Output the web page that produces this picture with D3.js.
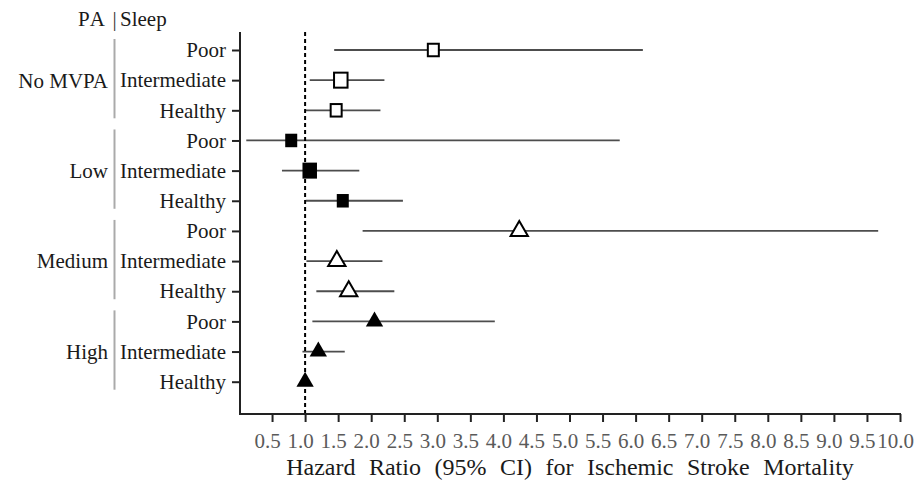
<!DOCTYPE html>
<html>
<head>
<meta charset="utf-8">
<script src="https://cdn.jsdelivr.net/npm/d3@7"></script>
<style>
  html, body { margin: 0; padding: 0; background: #fff; }
  svg { display: block; font-family: "Liberation Serif", "Times New Roman", serif; }
</style>
</head>
<body>
<svg id="chart" width="918" height="489"></svg>
<script>
// Physical activity groups and sleep-pattern categories
const groups = ["No MVPA", "Low", "Medium", "High"];
const sleepLevels = ["Poor", "Intermediate", "Healthy"];

// Hazard ratios with 95% CI, one per group × sleep row (top to bottom)
const hr    = [2.94, 1.54, 1.47, 0.79, 1.07, 1.57, 4.24, 1.48, 1.66, 2.05, 1.20, 1.00];
const lower = [1.44, 1.07, 1.01, 0.11, 0.65, 1.01, 1.87, 1.02, 1.17, 1.11, 0.96, 1.00];
const upper = [6.11, 2.20, 2.14, 5.76, 1.82, 2.48, 9.67, 2.17, 2.35, 3.87, 1.60, 1.00];

// X-axis tick values
const xTicks = [0.5, 1.0, 1.5, 2.0, 2.5, 3.0, 3.5, 4.0, 4.5, 5.0,
                5.5, 6.0, 6.5, 7.0, 7.5, 8.0, 8.5, 9.0, 9.5, 10.0];
const refValue = 1.0;
const xTitle = "Hazard Ratio (95%  CI) for Ischemic Stroke Mortality";

// Marker style per PA group
const markerStyle = {
  "No MVPA": { shape: "square",   filled: false },
  "Low":     { shape: "square",   filled: true  },
  "Medium":  { shape: "triangle", filled: false },
  "High":    { shape: "triangle", filled: true  }
};
const squareW = { "Poor": 12, "Intermediate": 14.5, "Healthy": 12 };

const rows = [];
groups.forEach((g, gi) => sleepLevels.forEach((s, si) => {
  const i = gi * 3 + si;
  rows.push({ i, group: g, sleep: s, hr: hr[i], lo: lower[i], hi: upper[i] });
}));

const svg = d3.select("#chart");
const axisLeftX = 240, axisTop = 32, axisBottomY = 414;

const x = d3.scaleLinear().domain([0, 10]).range([239, 900]);
const y = d3.scalePoint().domain(d3.range(rows.length)).range([50, 381.7]);

// X axis
const xAxisG = svg.append("g")
  .attr("transform", `translate(0,${axisBottomY})`)
  .call(d3.axisBottom(x).tickValues(xTicks).tickFormat(d3.format(".1f"))
        .tickSize(8).tickPadding(11));
xAxisG.select(".domain").remove();
xAxisG.selectAll(".tick line").attr("stroke", "#222").attr("stroke-width", 2);
xAxisG.selectAll(".tick text")
  .attr("font-size", 21).attr("font-family", "Liberation Serif")
  .attr("fill", "#5a5a5a").attr("dx", -5);
svg.append("line")
  .attr("x1", axisLeftX - 1).attr("x2", x(10) + 1)
  .attr("y1", axisBottomY).attr("y2", axisBottomY)
  .attr("stroke", "#222").attr("stroke-width", 2);

// Y axis
const yAxisG = svg.append("g")
  .attr("transform", `translate(${axisLeftX},0)`)
  .call(d3.axisLeft(y).tickSize(8).tickPadding(6)
        .tickFormat(i => rows[i].sleep));
yAxisG.select(".domain").remove();
yAxisG.selectAll(".tick line").attr("stroke", "#222").attr("stroke-width", 2);
yAxisG.selectAll(".tick text")
  .attr("font-size", 21).attr("font-family", "Liberation Serif")
  .attr("fill", "#1a1a1a");
svg.append("line")
  .attr("x1", axisLeftX).attr("x2", axisLeftX)
  .attr("y1", axisTop).attr("y2", axisBottomY + 1)
  .attr("stroke", "#222").attr("stroke-width", 2);

// Group labels with separators
groups.forEach((g, gi) => {
  svg.append("text")
    .attr("x", 108).attr("y", y(gi * 3 + 1)).attr("dy", "0.35em")
    .attr("text-anchor", "end").attr("font-size", 21).attr("fill", "#1a1a1a")
    .text(g);
  svg.append("line")
    .attr("x1", 114.5).attr("x2", 114.5)
    .attr("y1", y(gi * 3) - 11).attr("y2", y(gi * 3 + 2) + 8)
    .attr("stroke", "#aaaaaa").attr("stroke-width", 2);
});

// Header
svg.append("text").attr("x", 107).attr("y", 26).attr("text-anchor", "end")
  .attr("font-size", 21).attr("fill", "#1a1a1a").attr("letter-spacing", 2).text("PA");
svg.append("text").attr("x", 114.5).attr("y", 26).attr("text-anchor", "middle")
  .attr("font-size", 21).attr("fill", "#333").text("|");
svg.append("text").attr("x", 120).attr("y", 26).attr("text-anchor", "start")
  .attr("font-size", 21).attr("fill", "#1a1a1a").text("Sleep");

// Confidence intervals
svg.append("g").selectAll("line").data(rows.filter(d => d.hi > d.lo)).join("line")
  .attr("x1", d => x(d.lo)).attr("x2", d => x(d.hi))
  .attr("y1", d => y(d.i)).attr("y2", d => y(d.i))
  .attr("stroke", "#4d4d4d").attr("stroke-width", 1.8);

// Reference line at HR = 1
svg.append("line")
  .attr("x1", x(refValue)).attr("x2", x(refValue))
  .attr("y1", axisTop).attr("y2", axisBottomY - 1)
  .attr("stroke", "#000").attr("stroke-width", 2)
  .attr("stroke-dasharray", "4,3");

// Point estimates
const tri = d3.symbol().type(d3.symbolTriangle).size(130);
const markers = svg.append("g");
rows.forEach(d => {
  const st = markerStyle[d.group];
  const cx = x(d.hr), cy = y(d.i);
  const fill = st.filled ? "#000" : "#fff";
  const stroke = st.filled ? "none" : "#000";
  if (st.shape === "square") {
    const w = st.filled ? squareW[d.sleep] : squareW[d.sleep] - 1;
    const h = w + 1.5;
    markers.append("rect")
      .attr("x", cx - w / 2).attr("y", cy - h / 2)
      .attr("width", w).attr("height", h)
      .attr("fill", fill).attr("stroke", stroke).attr("stroke-width", 2);
  } else {
    markers.append("path")
      .attr("d", tri)
      .attr("transform", `translate(${cx},${cy})`)
      .attr("fill", fill).attr("stroke", stroke).attr("stroke-width", 2);
  }
});

// X-axis title
svg.append("text")
  .attr("x", (axisLeftX + x(10)) / 2).attr("y", 475)
  .attr("text-anchor", "middle").attr("font-size", 24).attr("fill", "#1a1a1a")
  .attr("word-spacing", 7.5)
  .text(xTitle);
</script>
</body>
</html>
